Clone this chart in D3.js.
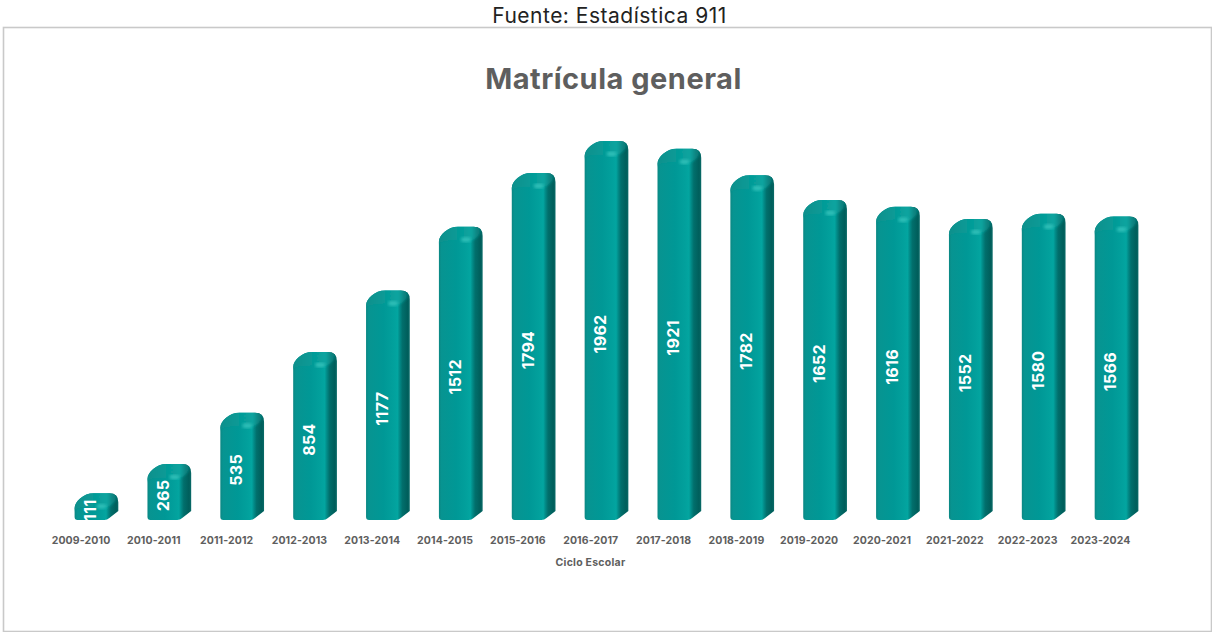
<!DOCTYPE html>
<html>
<head>
<meta charset="UTF-8">
<title>Matrícula general</title>
<script src="https://cdn.jsdelivr.net/npm/d3@7"></script>
<style>
    html, body { margin: 0; padding: 0; background: #fff; }
    svg { display: block; }
    text { font-family: Inter, "Open Sans", sans-serif; }
</style>
</head>
<body>
<div id="chart"></div>
<script>
    var ciclos = ["2009-2010", "2010-2011", "2011-2012", "2012-2013", "2013-2014", "2014-2015", "2015-2016", "2016-2017",
        "2017-2018", "2018-2019", "2019-2020", "2020-2021", "2021-2022", "2022-2023", "2023-2024"];
    var matricula = [111, 265, 535, 854, 1177, 1512, 1794, 1962, 1921, 1782, 1652, 1616, 1552, 1580, 1566];

    var width = 1212, height = 632, base = 520, depth = 12;

    var svg = d3.select("#chart").append("svg").attr("width", width).attr("height", height);
    var defs = svg.append("defs");

    function gradient(id, stops) {
        var g = defs.append("linearGradient").attr("id", id);
        stops.forEach(function (s) {
            g.append("stop").attr("offset", s[0]).attr("stop-color", s[1]);
        });
    }
    gradient("cuerpo", [[0, "#0b8783"], [0.06, "#079491"], [0.4, "#009896"], [0.62, "#02a09c"], [0.72, "#03a5a0"],
        [0.77, "#028a87"], [0.83, "#016f6c"], [0.95, "#005e5b"], [1, "#0a6b68"]]);
    gradient("tapa", [[0, "#0a8f8b"], [0.5, "#069c98"], [0.72, "#08a5a0"], [0.84, "#078481"], [1, "#056a67"]]);
    defs.append("filter").attr("id", "blur").append("feGaussianBlur").attr("stdDeviation", 1.8);
    defs.append("filter").attr("id", "blurTapa").append("feGaussianBlur").attr("stdDeviation", 0.9);

    svg.append("rect").attr("x", 3.5).attr("y", 27.5).attr("width", 1208).attr("height", 604)
        .attr("fill", "#fff").attr("stroke", "#c9c9c9").attr("stroke-width", 1.6);

    svg.append("text").attr("x", 609.5).attr("y", 23).attr("text-anchor", "middle")
        .attr("font-size", 21).attr("letter-spacing", 0.5).attr("fill", "#222").text("Fuente: Estadística 911");

    svg.append("text").attr("x", 613.5).attr("y", 89).attr("text-anchor", "middle")
        .attr("font-size", 29).attr("letter-spacing", 0.5).attr("font-weight", 700).attr("fill", "#5e5e5e").text("Matrícula general");

    var x = d3.scaleBand().domain(ciclos).range([74.6, 1138.4]).paddingInner(0.4).paddingOuter(0);
    var y = d3.scaleLinear().domain([0, 1962]).range([527.5, 154]);
    var xLabel = d3.scalePoint().domain(ciclos).range([80.5, 1100]);

    // silueta frente + lado, con la esquina superior redondeada
    function silueta(d) {
        var x0 = x(d.c), w = x.bandwidth(), t = y(d.v) - depth - 1, x1 = x0 + w;
        return "M" + (x0 + 3) + "," + base +
            "Q" + x0 + "," + base + " " + x0 + "," + (base - 3) +
            "L" + x0 + "," + (t + 15) +
            "C" + x0 + "," + (t + 8) + " " + (x0 + 9) + "," + t + " " + (x0 + 19) + "," + t +
            "L" + (x1 - 9) + "," + t +
            "Q" + x1 + "," + t + " " + x1 + "," + (t + 9) +
            "L" + x1 + "," + (base - 9) +
            "L" + (x1 - 9) + "," + (base - 2) +
            "Q" + (x1 - 11) + "," + base + " " + (x1 - 14) + "," + base + "Z";
    }
    // tapa superior
    function tapa(d) {
        var x0 = x(d.c), w = x.bandwidth(), t = y(d.v) - depth - 1, x1 = x0 + w;
        return "M" + (x0 - 2) + "," + (t + 18) +
            "Q" + (x0 + 3) + "," + (t + 14) + " " + (x0 + 10) + "," + (t + 14) +
            "L" + (x1 - 13) + "," + (t + 14) +
            "Q" + (x1 - 8) + "," + (t + 14) + " " + (x1 - 3) + "," + (t + 8) +
            "L" + (x1 + 2) + "," + (t - 2) +
            "L" + (x0 - 2) + "," + (t - 2) + "Z";
    }

    var datos = ciclos.map(function (c, i) { return { c: c, v: matricula[i] }; });
    var barras = svg.selectAll("g.barra").data(datos).enter().append("g").attr("class", "barra");

    barras.append("clipPath").attr("id", function (d, i) { return "recorte" + i; })
        .append("path").attr("d", silueta);

    barras.append("path").attr("d", silueta).attr("fill", "url(#cuerpo)");
    var remate = barras.append("g").attr("clip-path", function (d, i) { return "url(#recorte" + i + ")"; });
    remate.append("path").attr("d", tapa).attr("fill", "url(#tapa)").attr("filter", "url(#blurTapa)");
    remate.append("ellipse")
        .attr("cx", function (d) { return x(d.c) + 27; })
        .attr("cy", function (d) { return y(d.v); })
        .attr("rx", 5).attr("ry", 2.4)
        .attr("fill", "#2fbfb8").attr("filter", "url(#blur)");

    barras.append("text")
        .attr("transform", function (d) {
            return "translate(" + (x(d.c) + 16) + "," + ((base + y(d.v)) / 2 - 3) + ") rotate(-90)";
        })
        .attr("text-anchor", "middle").attr("dy", "0.36em")
        .attr("font-size", 16).attr("letter-spacing", 0.3).attr("font-weight", 700).attr("fill", "#fff")
        .text(function (d) { return d.v; });

    var eje = svg.append("g").attr("transform", "translate(0,537)")
        .call(d3.axisBottom(xLabel).tickSize(0).tickPadding(0));
    eje.select(".domain").remove();
    eje.selectAll("text").attr("font-size", 10.5).attr("letter-spacing", 0.12).attr("font-weight", 700).attr("fill", "#5e5e5e")
        .style("font-family", "Inter, sans-serif");

    svg.append("text").attr("x", 590.5).attr("y", 566).attr("text-anchor", "middle")
        .attr("font-size", 10.5).attr("letter-spacing", 0.25).attr("font-weight", 700).attr("fill", "#5e5e5e").text("Ciclo Escolar");
</script>
</body>
</html>
